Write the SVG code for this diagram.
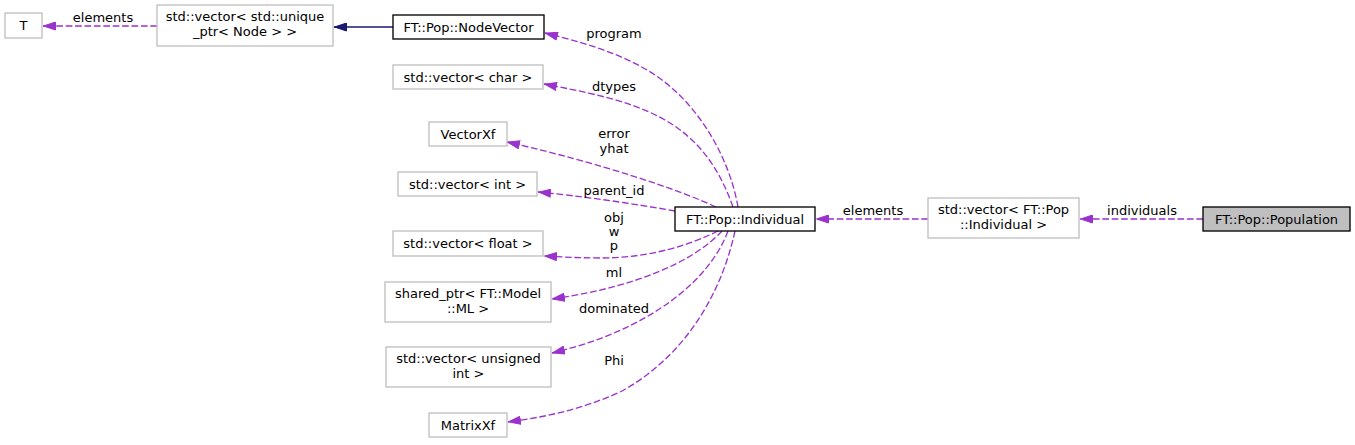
<svg xmlns="http://www.w3.org/2000/svg" width="1355" height="445" viewBox="0 0 1355 445">
<style>
text{font-family:"DejaVu Sans","Liberation Sans",sans-serif;font-size:13px;fill:#000;text-anchor:middle}
.g{fill:#fff;stroke:#bfbfbf;stroke-width:1.33}
.b{fill:#fff;stroke:#000;stroke-width:1.33}
.s{fill:#bfbfbf;stroke:#000;stroke-width:1.33}
.e{fill:none;stroke:#9a32cd;stroke-width:1.33;stroke-dasharray:6.7,2.7}
.i{fill:none;stroke:#191970;stroke-width:1.33}
</style>
<defs>
<marker id="ap" viewBox="0 0 13 9" refX="13" refY="4.5" markerWidth="13" markerHeight="9" markerUnits="userSpaceOnUse" orient="auto"><path d="M0.5,0.5 L12.5,4.5 L0.5,8.5 z" fill="#9a32cd" stroke="#9a32cd"/></marker>
<marker id="ab" viewBox="0 0 13 9" refX="13" refY="4.5" markerWidth="13" markerHeight="9" markerUnits="userSpaceOnUse" orient="auto"><path d="M0.5,0.5 L12.5,4.5 L0.5,8.5 z" fill="#191970" stroke="#191970"/></marker>
</defs>
<rect width="1355" height="445" fill="#fff"/>
<g id="connectors">
<path class="e" d="M157,26 L43,26" marker-end="url(#ap)"/>
<text x="103" y="22">elements</text>
<path class="i" d="M393,27 L334,27" marker-end="url(#ab)"/>
<path class="e" d="M738,207 C730,160 700,105 655,75 C620,52 580,42 545,33" marker-end="url(#ap)"/>
<text x="614" y="38">program</text>
<path class="e" d="M733,207 C720,170 700,140 665,120 C630,100 585,92 544,84" marker-end="url(#ap)"/>
<text x="614" y="91">dtypes</text>
<path class="e" d="M716,207 C680,190 600,163 507,142" marker-end="url(#ap)"/>
<text x="614" y="138">error</text>
<text x="614" y="153">yhat</text>
<path class="e" d="M675,211 C630,203 580,196 538,192" marker-end="url(#ap)"/>
<text x="614" y="195">parent_id</text>
<path class="e" d="M718,231 C690,245 650,258 600,258 C580,258 565,257 544,256" marker-end="url(#ap)"/>
<text x="614" y="222">obj</text>
<text x="614" y="236">w</text>
<text x="614" y="250">p</text>
<path class="e" d="M722,231 C700,255 650,285 552,299" marker-end="url(#ap)"/>
<text x="614" y="277">ml</text>
<path class="e" d="M728,231 C710,280 650,330 552,353" marker-end="url(#ap)"/>
<text x="614" y="313">dominated</text>
<path class="e" d="M735,231 C720,300 680,360 620,392 C580,410 545,417 508,422" marker-end="url(#ap)"/>
<text x="614" y="365">Phi</text>
<path class="e" d="M928,219 L816,219" marker-end="url(#ap)"/>
<text x="873" y="215">elements</text>
<path class="e" d="M1203,219 L1080,219" marker-end="url(#ap)"/>
<text x="1142" y="215">individuals</text>
</g>
<g id="node-T"><rect class="g" x="5" y="13" width="37" height="25"/><text x="23.5" y="30">T</text></g>
<g id="node-vec-unique"><rect class="g" x="157" y="5" width="176" height="41"/><text x="245" y="21">std::vector&lt; std::unique</text><text x="245" y="36">_ptr&lt; Node &gt; &gt;</text></g>
<g id="node-NodeVector"><rect class="b" x="393" y="15" width="151" height="24"/><text x="468.5" y="31.5">FT::Pop::NodeVector</text></g>
<g id="node-vec-char"><rect class="g" x="393" y="65" width="150" height="24"/><text x="468" y="81.5">std::vector&lt; char &gt;</text></g>
<g id="node-VectorXf"><rect class="g" x="429" y="122" width="78" height="24"/><text x="468" y="138.5">VectorXf</text></g>
<g id="node-vec-int"><rect class="g" x="398" y="172" width="139" height="24"/><text x="467.5" y="188.5">std::vector&lt; int &gt;</text></g>
<g id="node-Individual"><rect class="b" x="675" y="207" width="140" height="24"/><text x="745" y="223.5">FT::Pop::Individual</text></g>
<g id="node-vec-float"><rect class="g" x="393" y="231" width="150" height="25"/><text x="468" y="248">std::vector&lt; float &gt;</text></g>
<g id="node-shared-ptr"><rect class="g" x="385" y="282" width="166" height="40"/><text x="468" y="298">shared_ptr&lt; FT::Model</text><text x="468" y="313">::ML &gt;</text></g>
<g id="node-vec-unsigned"><rect class="g" x="386" y="347" width="165" height="40"/><text x="468.5" y="363">std::vector&lt; unsigned</text><text x="468.5" y="378">int &gt;</text></g>
<g id="node-MatrixXf"><rect class="g" x="429" y="413" width="78" height="24"/><text x="468" y="429.5">MatrixXf</text></g>
<g id="node-vec-individual"><rect class="g" x="928" y="198" width="151" height="40"/><text x="1003.5" y="214">std::vector&lt; FT::Pop</text><text x="1003.5" y="229">::Individual &gt;</text></g>
<g id="node-Population"><rect class="s" x="1203" y="207" width="147" height="24"/><text x="1276.5" y="223.5">FT::Pop::Population</text></g>
</svg>
